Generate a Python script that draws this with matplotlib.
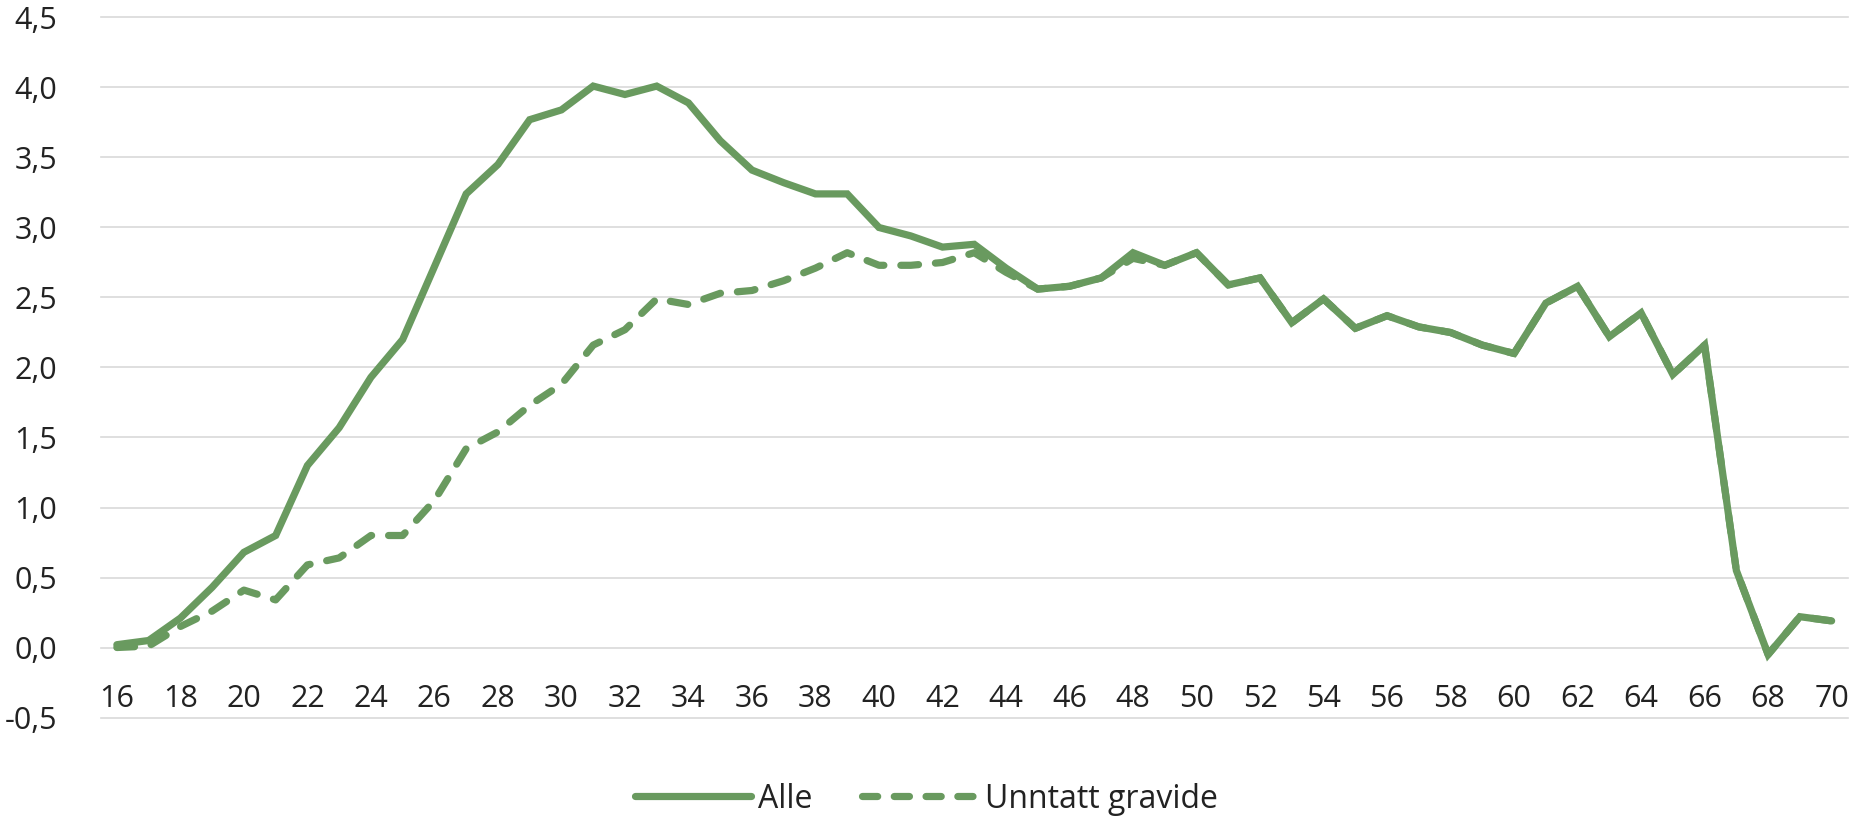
import matplotlib
matplotlib.use("Agg")
import matplotlib.pyplot as plt
from matplotlib.lines import Line2D

plt.rcParams['font.family'] = ['Open Sans', 'DejaVu Sans']

ages = list(range(16, 71))
alle = [0.02, 0.05, 0.21, 0.43, 0.68, 0.80, 1.30, 1.57, 1.93, 2.20,
        2.72, 3.24, 3.45, 3.77, 3.84, 4.01, 3.95, 4.01, 3.89, 3.62,
        3.41, 3.32, 3.24, 3.24, 3.00, 2.94, 2.86, 2.88, 2.71, 2.56,
        2.58, 2.64, 2.82, 2.73, 2.82, 2.59, 2.64, 2.32, 2.49, 2.28,
        2.37, 2.29, 2.25, 2.16, 2.10, 2.46, 2.58, 2.22, 2.39, 1.95,
        2.16, 0.55, -0.05, 0.22, 0.19]
unntatt = [0.00, 0.01, 0.15, 0.26, 0.41, 0.34, 0.59, 0.64, 0.80, 0.80,
           1.05, 1.42, 1.54, 1.73, 1.88, 2.16, 2.27, 2.49, 2.45, 2.53,
           2.55, 2.62, 2.71, 2.82, 2.73, 2.73, 2.75, 2.82, 2.68, 2.56,
           2.58, 2.64, 2.78, 2.73, 2.82, 2.59, 2.64, 2.32, 2.49, 2.28,
           2.37, 2.29, 2.25, 2.16, 2.10, 2.46, 2.58, 2.22, 2.39, 1.95,
           2.16, 0.55, -0.05, 0.22, 0.19]
yticks = [-0.5, 0.0, 0.5, 1.0, 1.5, 2.0, 2.5, 3.0, 3.5, 4.0, 4.5]
xticks = list(range(16, 71, 2))
series_labels = ["Alle", "Unntatt gravide"]

color = '#699A5F'
text_color = '#222222'
lw = 5.2

fig = plt.figure(figsize=(18.53, 8.21), dpi=100)
ax = fig.add_axes([101/1853, 1 - 717.5/821, (1847.5-101)/1853, (717.5-17.5)/821])

ax.plot(ages, alle, color=color, lw=lw, solid_joinstyle='miter',
        solid_capstyle='round', zorder=3, label=series_labels[0])
ax.plot(ages, unntatt, color=color, lw=lw, linestyle=(0, (2.45, 2.35)),
        dash_capstyle='round', dash_joinstyle='round', zorder=4,
        label=series_labels[1])

ax.set_xlim(15.5, 70.5)
ax.set_ylim(-0.5, 4.5)
ax.set_yticks(yticks)
ax.set_yticklabels([f"{v:.1f}".replace('.', ',') for v in yticks])
ax.set_xticks(xticks)
ax.set_xticklabels([str(v) for v in xticks])

ax.grid(axis='y', color='#D9D9D9', lw=1.2, zorder=0)
ax.grid(axis='x', visible=False)
for g in ax.get_ygridlines():
    g.set_clip_on(False)
for s in ax.spines.values():
    s.set_visible(False)
ax.spines['bottom'].set_position(('data', 0))

ax.tick_params(axis='y', length=0, pad=31.5, labelsize=22, labelcolor=text_color)
ax.tick_params(axis='x', length=0, pad=26, labelsize=22, labelcolor=text_color)

handles = [Line2D([0], [0], color=color, lw=lw, solid_capstyle='round'),
           Line2D([0], [0], color=color, lw=lw, linestyle=(0, (2.1, 2.3)),
                  dash_capstyle='round')]
leg = fig.legend(handles, series_labels, loc='center', bbox_to_anchor=(0.5, 1 - 799/821),
                 ncol=2, frameon=False, fontsize=23, handlelength=3.63,
                 handletextpad=0.22, columnspacing=1.55)
for t in leg.get_texts():
    t.set_color(text_color)

fig.savefig("out.png", dpi=100)
